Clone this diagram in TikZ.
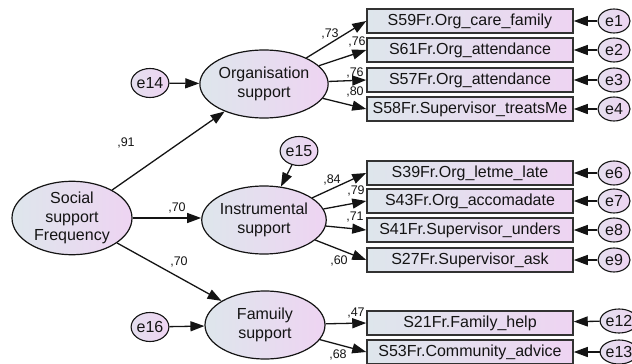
\documentclass[tikz,border=0pt]{standalone}
\usepackage{fontspec}
\setmainfont{Liberation Sans}
\usetikzlibrary{shapes.geometric,arrows.meta}
\definecolor{shadeL}{RGB}{222,230,236}
\definecolor{shadeR}{RGB}{238,212,242}
\definecolor{ink}{RGB}{20,20,20}
\definecolor{boxline}{RGB}{50,50,50}
\tikzset{
  every node/.style={text=ink},
  bigfont/.style={font=\fontsize{16}{18.5}\selectfont},
  latent/.style={ellipse, draw=ink, line width=1.2pt, minimum width=120pt,
    minimum height=68pt, inner sep=0pt, left color=shadeL, right color=shadeR,
    align=center, bigfont},
  errsmall/.style={ellipse, draw=ink, line width=1.1pt, minimum width=32pt,
    minimum height=24pt, inner sep=0pt, left color=shadeL!60!shadeR, right color=shadeR, bigfont},
  errbig/.style={errsmall, minimum height=29pt, minimum width=33pt},
  indicator/.style={rectangle, draw=boxline, line width=1.5pt, minimum width=206pt,
    minimum height=24pt, inner sep=0pt, left color=shadeL, right color=shadeR, bigfont},
  path/.style={draw=ink, line width=1.3pt, -{Triangle[length=14pt,width=10pt]}},
  coef/.style={font=\fontsize{12.5}{14}\selectfont, inner sep=0pt}
}
\begin{document}
\begin{tikzpicture}[x=1pt,y=-1pt]
\useasboundingbox (0,0) rectangle (632,364);

% latent variables
\node[latent] (soc) at (72,218) {Social\\support\\Frequency};
\node[latent] (org) at (264,84) {Organisation\\support};
\node[latent] (ins) at (264,220) {Instrumental\\support};
\node[latent] (fam) at (265,325) {Famuily\\support};

% disturbances
\node[errbig] (e14) at (150,83) {e14};
\node[errbig] (e15) at (299,151) {e15};
\node[errbig] (e16) at (150,327) {e16};

% observed indicators
\node[indicator] (b1) at (470,21) {S59Fr.Org\_care\_family};
\node[indicator] (b2) at (470,50) {S61Fr.Org\_attendance};
\node[indicator] (b3) at (470,80) {S57Fr.Org\_attendance};
\node[indicator] (b4) at (470,109) {S58Fr.Supervisor\_treatsMe};
\node[indicator] (b6) at (470,173) {S39Fr.Org\_letme\_late};
\node[indicator] (b7) at (470,201) {S43Fr.Org\_accomadate};
\node[indicator] (b8) at (470,230) {S41Fr.Supervisor\_unders};
\node[indicator] (b9) at (470,260) {S27Fr.Supervisor\_ask};
\node[indicator] (b12) at (470,323) {S21Fr.Family\_help};
\node[indicator] (b13) at (470,352) {S53Fr.Community\_advice};

% measurement errors
\node[errsmall] (e1) at (614,21) {e1};
\node[errsmall] (e2) at (614,50) {e2};
\node[errsmall] (e3) at (614,80) {e3};
\node[errsmall] (e4) at (614,109) {e4};
\node[errsmall] (e6) at (614,173) {e6};
\node[errsmall] (e7) at (614,201) {e7};
\node[errsmall] (e8) at (614,230) {e8};
\node[errsmall] (e9) at (614,260) {e9};
\node[errsmall] (e12) at (619,321) {e12};
\node[errsmall] (e13) at (619,352) {e13};

% structural paths
\draw[path] (soc) -- (org);
\draw[path] (soc.east |- 0,218) -- (ins.west |- 0,218);
\draw[path] (soc) -- (fam);
\draw[path] (e14) -- (org);
\draw[path] (e15) -- (ins);
\draw[path] (e16) -- (fam);

% loadings
\foreach \b in {b1,b2,b3,b4} \draw[path] (org) -- (\b.west);
\foreach \b in {b6,b7,b8,b9} \draw[path] (ins) -- (\b.west);
\foreach \b in {b12,b13} \draw[path] (fam) -- (\b.west);

% error paths
\foreach \e/\b in {e1/b1,e2/b2,e3/b3,e4/b4,e6/b6,e7/b7,e8/b8,e9/b9,e12/b12,e13/b13}
  \draw[path] (\e) -- (\b);

% coefficients
\node[coef] (c91) at (126,143) {,91};
\node[coef] (c70a) at (177,208) {,70};
\node[coef] (c70b) at (179,262) {,70};
\node[coef] (c73) at (330,34) {,73};
\node[coef] (c76a) at (357,42) {,76};
\node[coef] (c76b) at (355,73) {,76};
\node[coef] (c80) at (355,92) {,80};
\node[coef] (c84) at (332,180) {,84};
\node[coef] (c79) at (356,191) {,79};
\node[coef] (c71) at (355,217) {,71};
\node[coef] (c60) at (339,261) {,60};
\node[coef] (c47) at (356,313) {,47};
\node[coef] (c68) at (338,355) {,68};
\end{tikzpicture}
\end{document}
